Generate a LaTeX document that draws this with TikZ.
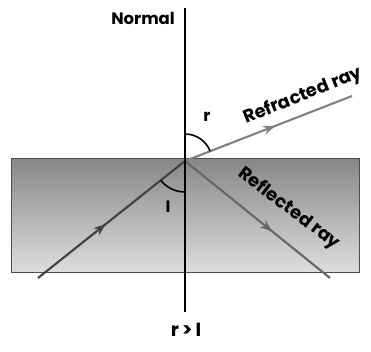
\documentclass[tikz,border=0pt]{standalone}
\usepackage{fontspec}
\setmainfont{Poppins}
\usetikzlibrary{decorations.markings,arrows.meta,angles}
\definecolor{topgray}{RGB}{135,135,135}
\definecolor{botgray}{RGB}{222,222,222}
\begin{document}
\begin{tikzpicture}[x=1pt,y=1pt,
  ray/.style={line width=2.1pt},
  midarrow/.style={postaction={decorate},decoration={markings,
     mark=at position #1 with {\arrow{Stealth[length=12pt,width=9pt]}}}},
  lbl/.style={font=\bfseries\fontsize{16.5}{16.5}\selectfont, inner sep=0pt},
  raylbl/.style={font=\bfseries\fontsize{18}{18}\selectfont, inner sep=0pt},
  anglearc/.style={draw=black, line width=1.6pt}]
\useasboundingbox (0,0) rectangle (371,351);
% medium
\node[draw=black!70, line width=0.8pt, top color=topgray, bottom color=botgray,
      minimum width=348pt, minimum height=114pt, inner sep=0pt, anchor=south west] (block) at (11,78) {};
% points
\coordinate (O) at (185,190);
\coordinate (T) at (185,343);
\coordinate (B) at (185,39);
\coordinate (A) at (38,73);
\coordinate (R) at (352,255);
\coordinate (F) at (330,73);
% rays
\draw[ray, draw=black!75, midarrow=0.46] (A) -- (O);
\draw[ray, draw=black!50, midarrow=0.54] (O) -- (R);
\draw[ray, draw=black!60, midarrow=0.60] (O) -- (F);
% normal
\draw[line width=2.4pt] (T) -- (B);
% angles
\pic[anglearc, angle radius=27pt] {angle = R--O--T};
\pic[anglearc, angle radius=31pt] {angle = A--O--B};
% labels
\node[lbl, anchor=east] (normal) at (175,333) {Normal};
\node[lbl] (rlab) at (207,234) {r};
\node[lbl] (ilab) at (168,144) {I};
\node[font=\bfseries\fontsize{19}{19}\selectfont, inner sep=0pt] (cond) at (186,21) {r\,>\,I};
\node[raylbl, rotate=22] (refr) at (303,255) {Refracted ray};
\node[raylbl, rotate=-37] (refl) at (289,142) {Reflected ray};
\end{tikzpicture}
\end{document}
